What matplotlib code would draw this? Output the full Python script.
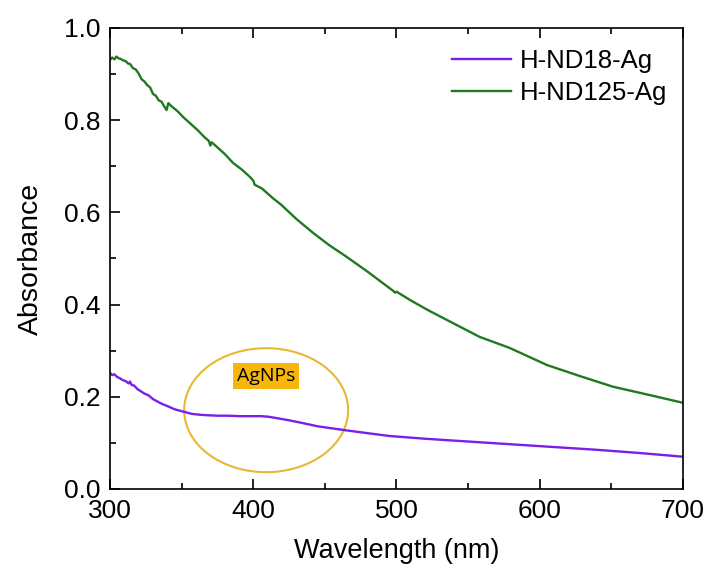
import numpy as np
import matplotlib.pyplot as plt
from matplotlib.patches import Ellipse
from matplotlib.ticker import MultipleLocator

plt.rcParams['font.family'] = ['Liberation Sans', 'DejaVu Sans']

# Wavelength / absorbance
wl_nd125 = [300, 301.5, 303, 304.5, 306, 307.5, 309, 311, 312.5, 314, 316, 318, 320, 322,
            324, 326, 328, 330, 332, 334, 336, 338, 339.5, 340.7, 343, 347, 351, 356,
            361, 366, 369, 370, 371, 375, 380, 386, 392, 398, 400, 401, 406, 414,
            419, 430, 442, 453, 465, 480, 497.6, 499, 500, 510, 522, 535, 558, 579,
            605, 628, 651, 675, 700]
abs_nd125 = [0.931, 0.936, 0.932, 0.938, 0.934, 0.933, 0.930, 0.928, 0.923, 0.922, 0.913,
             0.910, 0.901, 0.889, 0.884, 0.876, 0.871, 0.857, 0.853, 0.843, 0.840, 0.829,
             0.822, 0.837, 0.830, 0.820, 0.807, 0.793, 0.779, 0.763, 0.755, 0.745, 0.752,
             0.741, 0.727, 0.707, 0.693, 0.676, 0.669, 0.660, 0.652, 0.630,
             0.618, 0.586, 0.555, 0.529, 0.504, 0.471, 0.430, 0.426, 0.428, 0.409, 0.388,
             0.367, 0.330, 0.306, 0.269, 0.245, 0.222, 0.205, 0.187]

wl_nd18 = [300, 301.5, 303, 305, 307, 309, 311, 313, 314, 315, 317, 319, 321, 324,
           327, 330, 333, 336, 340, 345, 351, 357, 363, 368, 375, 382, 390, 398,
           405, 410, 416, 425, 433, 445, 463, 480, 495, 520, 550, 580, 610, 640,
           670, 700]
abs_nd18 = [0.252, 0.247, 0.249, 0.243, 0.240, 0.236, 0.234, 0.229, 0.233, 0.226, 0.224,
            0.217, 0.213, 0.207, 0.203, 0.195, 0.190, 0.185, 0.180, 0.173, 0.168, 0.163,
            0.161, 0.160, 0.159, 0.159, 0.158, 0.158, 0.158, 0.157, 0.154, 0.149, 0.144,
            0.136, 0.128, 0.121, 0.115, 0.109, 0.103, 0.097, 0.091, 0.085, 0.078, 0.070]

fig = plt.figure(figsize=(7.07, 5.69), dpi=100)
ax = fig.add_axes([0.1556, 0.1406, 0.966 - 0.1556, 0.9508 - 0.1406])

ax.plot(wl_nd18, abs_nd18, color='#7a1fe6', lw=1.7, label='H-ND18-Ag')
ax.plot(wl_nd125, abs_nd125, color='#1f7a1f', lw=1.7, label='H-ND125-Ag')

# AgNPs annotation
ax.add_patch(Ellipse((409, 0.171), 114.5, 0.269, fill=False, edgecolor='#e8b733', lw=1.5))
ax.text(409, 0.245, 'AgNPs', ha='center', va='center', fontsize=14, family=['Open Sans', 'DejaVu Sans'],
        bbox=dict(facecolor='#f6b60c', edgecolor='none', pad=3.0))

ax.set_xlim(300, 700)
ax.set_ylim(0, 1.0)
ax.xaxis.set_major_locator(MultipleLocator(100))
ax.xaxis.set_minor_locator(MultipleLocator(50))
ax.yaxis.set_major_locator(MultipleLocator(0.2))
ax.yaxis.set_minor_locator(MultipleLocator(0.1))
ax.tick_params(which='both', direction='in', top=True, right=False, width=1.2, labelsize=19)
ax.tick_params(which='major', length=7, pad=7)
ax.tick_params(which='minor', length=4)
ax.yaxis.set_major_formatter(plt.FormatStrFormatter('%.1f'))
for s in ax.spines.values():
    s.set_linewidth(1.2)

ax.set_xlabel('Wavelength (nm)', fontsize=19.5, labelpad=11)
ax.set_ylabel('Absorbance', fontsize=20.5, labelpad=14)

ax.legend(loc='upper left', bbox_to_anchor=(0.597, 0.955), frameon=False, fontsize=18.5,
          handlelength=2.3, handletextpad=0.35, labelspacing=0.33, borderpad=0, borderaxespad=0)

plt.savefig('out.png', dpi=100)
